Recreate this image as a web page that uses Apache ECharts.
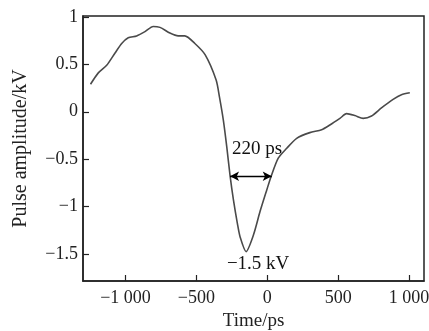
<!DOCTYPE html>
<html>
<head>
<meta charset="utf-8">
<script src="https://cdn.jsdelivr.net/npm/echarts@6/dist/echarts.min.js"></script>
<style>html,body{margin:0;padding:0;background:#fff;}#c{width:429px;height:331px;}</style>
</head>
<body>
<div id="c"></div>
<script>
const timePs = [-1247,-1192,-1133,-1074,-1027,-981,-922,-863,-805,-757,-687,-629,-582,-511,-438,-361,-338,-310,-286,-263,-239,-211,-192,-150,-98,-51,-4,26,77,137,207,300,383,441,512,559,617,676,735,805,887,946,1005];
const amplitudeKV = [0.29,0.41,0.49,0.62,0.72,0.78,0.80,0.845,0.90,0.89,0.83,0.80,0.80,0.72,0.60,0.335,0.16,-0.09,-0.37,-0.67,-0.93,-1.18,-1.32,-1.475,-1.30,-1.05,-0.825,-0.685,-0.49,-0.385,-0.28,-0.22,-0.19,-0.14,-0.07,-0.02,-0.04,-0.07,-0.045,0.04,0.13,0.18,0.20];
const xTicks = [-1000,-500,0,500,1000];
const xTickLabels = ['\u22121 000','\u2212500','0','500','1 000'];
const yTicks = [-1.5,-1,-0.5,0,0.5,1];
const yTickLabels = ['\u22121.5','\u22121','\u22120.5','0','0.5','1'];
const widthArrow = [[-263,-0.68],[31,-0.68]];
const widthLabel = {text:'220 ps', at:[-72,-0.39]};
const peakLabel = {text:'\u22121.5 kV', at:[-65,-1.605]};

const font = '"Liberation Serif","DejaVu Serif",serif';
const chart = echarts.init(document.getElementById('c'), null, {renderer:'canvas'});
chart.setOption({
  animation:false,
  backgroundColor:'#fff',
  grid:{left:83, top:16, right:5, bottom:50, containLabel:false, outerBoundsMode:'none',
    show:true, borderColor:'#222', borderWidth:1.5, backgroundColor:'transparent'},
  xAxis:{
    type:'value', min:-1300, max:1105,
    name:'Time/ps', nameLocation:'middle', nameGap:31,
    nameTextStyle:{fontFamily:font, fontSize:19, color:'#222'},
    axisLine:{show:true, onZero:false, lineStyle:{color:'#222', width:1.5}},
    axisTick:{show:true, inside:true, length:6, customValues:xTicks, lineStyle:{color:'#222', width:1.2}},
    axisLabel:{customValues:xTicks, fontFamily:font, fontSize:18, color:'#222', margin:8,
      formatter:v=>xTickLabels[xTicks.indexOf(v)]},
    splitLine:{show:false}
  },
  yAxis:{
    type:'value', min:-1.785, max:1.01,
    name:'Pulse amplitude/kV', nameLocation:'middle', nameGap:52,
    nameTextStyle:{fontFamily:font, fontSize:20, color:'#222'},
    axisLine:{show:true, onZero:false, lineStyle:{color:'#222', width:1.5}},
    axisTick:{show:true, inside:true, length:6, customValues:yTicks, lineStyle:{color:'#222', width:1.2}},
    axisLabel:{customValues:yTicks, fontFamily:font, fontSize:18, color:'#222', margin:5,
      formatter:v=>yTickLabels[yTicks.indexOf(v)]},
    splitLine:{show:false}
  },
  series:[{
    type:'line',
    data:timePs.map((t,i)=>[t,amplitudeKV[i]]),
    smooth:0.25,
    showSymbol:false,
    lineStyle:{color:'#4a4a4a', width:1.6},
    markLine:{
      silent:true, symbol:['arrow','arrow'], symbolSize:[7,9],
      lineStyle:{color:'#000', width:1.3, type:'solid'},
      label:{show:false},
      data:[[{coord:widthArrow[0]},{coord:widthArrow[1]}]]
    },
    markPoint:{
      silent:true, symbol:'circle', symbolSize:1, itemStyle:{color:'rgba(0,0,0,0)'},
      label:{show:true, position:'inside', fontFamily:font, fontSize:19, color:'#111'},
      data:[
        {coord:widthLabel.at, label:{formatter:widthLabel.text}},
        {coord:peakLabel.at, label:{formatter:peakLabel.text}}
      ]
    }
  }]
});
</script>
</body>
</html>
